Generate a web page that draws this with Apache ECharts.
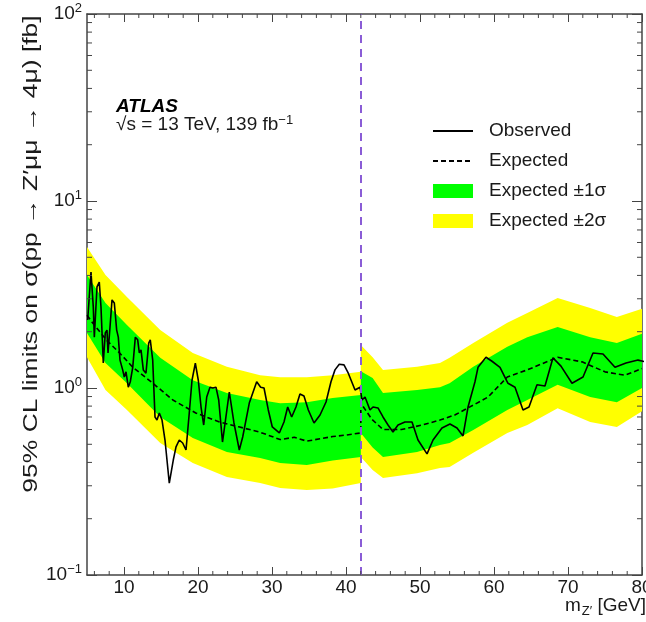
<!DOCTYPE html>
<html>
<head>
<meta charset="utf-8">
<script src="https://cdn.jsdelivr.net/npm/echarts@6.0.0/dist/echarts.min.js"></script>
<style>
  html, body { margin: 0; padding: 0; background: #fff; }
  #chart { width: 646px; height: 622px; }
</style>
</head>
<body>
<div id="chart"></div>
<script>
// observed limit [mZ' (GeV), sigma (fb)]
const observed = [
  [5.09, 2.31], [5.54, 4.17], [5.85, 2.71], [5.99, 1.87], [6.35, 3.47], [6.66, 3.69], [6.89, 2.71],
  [7.2, 1.36], [7.47, 1.97], [7.7, 2.04], [7.84, 1.54], [8.11, 2.12], [8.38, 2.96], [8.69, 2.85],
  [9.01, 2.04], [9.23, 1.87], [9.46, 1.41], [9.82, 1.25], [10.04, 1.145], [10.27, 1.22], [10.58, 1.01],
  [10.85, 1.08], [11.18, 1.29], [11.53, 1.87], [11.85, 1.81], [12.07, 1.54], [12.3, 1.6], [12.61, 1.25],
  [12.97, 1.2], [13.34, 1.74], [13.55, 1.81], [13.88, 1.41], [14.19, 0.7], [14.46, 0.674], [14.77, 0.735],
  [15.14, 0.674], [15.54, 0.527], [16.12, 0.31], [16.66, 0.412], [17.03, 0.484], [17.47, 0.527],
  [17.93, 0.508], [18.38, 0.466], [18.82, 0.735], [19.19, 1.1], [19.64, 1.36], [20.04, 1.1], [20.41, 0.791],
  [20.77, 0.634], [21.18, 0.895], [21.62, 1.01], [21.99, 1.0], [22.43, 1.01], [22.8, 0.863], [23.31, 0.514],
  [24.23, 0.952], [24.86, 0.65], [25.58, 0.466], [26.04, 0.547], [26.93, 0.831], [27.93, 1.08], [28.47, 1.01],
  [28.92, 1.0], [29.5, 0.763], [30.04, 0.619], [30.99, 0.575], [31.62, 0.658], [32.12, 0.791], [32.66, 0.7],
  [33.24, 0.791], [33.78, 0.929], [34.32, 0.906], [34.91, 0.763], [35.68, 0.65], [36.49, 0.717], [37.3, 0.842],
  [37.97, 1.08], [38.51, 1.25], [39.09, 1.34], [39.73, 1.33], [40.31, 1.2], [41.22, 0.976], [41.89, 1.01],
  [42.16, 0.863], [42.57, 0.895], [43.24, 0.763], [43.65, 0.791], [44.32, 0.782], [45.0, 0.7], [45.68, 0.634],
  [46.35, 0.582], [47.03, 0.634], [47.97, 0.658], [48.92, 0.658], [49.73, 0.527], [50.95, 0.444], [51.76, 0.527],
  [52.97, 0.611], [54.05, 0.642], [55.0, 0.611], [55.81, 0.554], [56.49, 0.791], [57.43, 1.08], [57.84, 1.29],
  [58.92, 1.46], [59.73, 1.39], [60.81, 1.29], [61.89, 1.06], [62.84, 1.01], [63.92, 0.763], [64.73, 0.791],
  [65.81, 1.04], [66.89, 1.025], [67.97, 1.45], [69.05, 1.31], [70.54, 1.06], [72.03, 1.145], [73.38, 1.54],
  [74.73, 1.52], [76.35, 1.29], [77.84, 1.36], [79.46, 1.41], [80.5, 1.38]
];

// expected limit
const expected = [
  [5, 2.45], [5.8, 2.22], [7.6, 1.81], [9.4, 1.54], [11.2, 1.29], [13.9, 1.06], [16.6, 0.863], [19.7, 0.735],
  [22.9, 0.658], [25.5, 0.62], [28.4, 0.58], [31.1, 0.53], [33, 0.545], [34.7, 0.52], [36.5, 0.535], [38.2, 0.55],
  [40, 0.56], [42, 0.575], [42, 0.83], [43.5, 0.68], [45, 0.6], [47.5, 0.6], [50.3, 0.634], [52.7, 0.674],
  [54.7, 0.717], [57.2, 0.81], [59.2, 0.895], [61.8, 1.145], [64.5, 1.25], [68.6, 1.46], [71.9, 1.38],
  [75, 1.22], [77.7, 1.17], [80, 1.27]
];

// expected bands
const bandMass = [5, 7.5, 10.4, 14.9, 19.3, 23.9, 28.4, 31.1, 34.7, 38.2, 42, 42, 43.6, 45, 49.6, 52.7, 54, 57.2, 61.8, 64.5, 68.6, 73, 76.6, 80];
const sig2Up = [5.67, 4.02, 3.07, 2.04, 1.54, 1.30, 1.17, 1.14, 1.14, 1.17, 1.22, 1.70, 1.46, 1.25, 1.30, 1.36, 1.45, 1.74, 2.23, 2.52, 3.03, 2.68, 2.40, 2.65];
const sig1Up = [4.02, 2.85, 2.17, 1.45, 1.10, 0.94, 0.863, 0.83, 0.84, 0.884, 0.917, 1.23, 1.13, 0.94, 0.975, 1.01, 1.06, 1.30, 1.66, 1.87, 2.12, 1.87, 1.74, 1.95];
const sig1Dn = [1.97, 1.36, 1.06, 0.70, 0.54, 0.455, 0.422, 0.397, 0.387, 0.41, 0.428, 0.575, 0.48, 0.428, 0.455, 0.496, 0.508, 0.596, 0.763, 0.863, 1.04, 0.895, 0.84, 1.0];
const sig2Dn = [1.46, 0.976, 0.763, 0.508, 0.397, 0.334, 0.31, 0.292, 0.285, 0.29, 0.31, 0.428, 0.364, 0.33, 0.35, 0.373, 0.378, 0.45, 0.575, 0.634, 0.78, 0.658, 0.619, 0.75];

const xTicks = [10, 20, 30, 40, 50, 60, 70, 80];
const yTicks = [0.1, 1, 10, 100];
const boundary = 42;

const xMinor = [];
for (let m = 6; m < 80; m += 2) if (m % 10 !== 0) xMinor.push(m);
const yMinor = [];
for (let k = -1; k <= 1; k++) for (let d = 2; d <= 9; d++) yMinor.push(d * Math.pow(10, k));

const FONT = '"Liberation Sans", Arial, Helvetica, sans-serif';
const TXT = '#1a1a1a';
const AX = '#444';

const chart = echarts.init(document.getElementById('chart'));

function band(name, up, dn, color, z) {
  return {
    name: name,
    type: 'custom',
    coordinateSystem: 'cartesian2d',
    silent: true,
    z: z,
    itemStyle: { color: color },
    data: [[bandMass[0], up[0]]],
    renderItem: function (params, api) {
      const pts = [];
      for (let i = 0; i < bandMass.length; i++) pts.push(api.coord([bandMass[i], up[i]]));
      for (let i = bandMass.length - 1; i >= 0; i--) pts.push(api.coord([bandMass[i], dn[i]]));
      return { type: 'polygon', shape: { points: pts }, style: { fill: color } };
    }
  };
}

function supLabel(v) {
  const e = Math.round(Math.log10(v));
  return '{b|10}{s|' + (e < 0 ? '\u2212' + (-e) : e) + '}';
}

const axisLine = { show: true, onZero: false, lineStyle: { color: AX, width: 1.5 } };

chart.setOption({
  animation: false,
  textStyle: { fontFamily: FONT },
  grid: { left: 87, right: 4, top: 14, bottom: 47, outerBoundsMode: 'none', containLabel: false },
  legend: {
    orient: 'vertical',
    left: 432,
    top: 121,
    padding: 0,
    itemWidth: 40,
    itemHeight: 14,
    itemGap: 10,
    textStyle: { fontSize: 19, color: TXT, lineHeight: 20, padding: [0, 0, 0, 11] },
    data: [
      { name: 'Observed', itemStyle: { opacity: 0 } },
      { name: 'Expected', itemStyle: { opacity: 0 } },
      { name: 'Expected \u00b11\u03c3', icon: 'rect' },
      { name: 'Expected \u00b12\u03c3', icon: 'rect' }
    ]
  },
  xAxis: [{
    type: 'value', min: 5, max: 80, position: 'bottom',
    axisLine: axisLine,
    axisTick: { show: true, inside: true, length: 8, customValues: xTicks, lineStyle: { color: AX, width: 1 } },
    axisLabel: { customValues: xTicks, fontSize: 19, color: TXT, margin: 3 },
    splitLine: { show: false }
  }, {
    type: 'value', min: 5, max: 80, position: 'top',
    axisLine: axisLine,
    axisTick: { show: true, inside: true, length: 8, customValues: xTicks, lineStyle: { color: AX, width: 1 } },
    axisLabel: { show: false },
    splitLine: { show: false }
  }],
  yAxis: [{
    type: 'log', logBase: 10, min: 0.1, max: 100, position: 'left',
    axisLine: axisLine,
    axisTick: { show: true, inside: true, length: 10, customValues: yTicks, lineStyle: { color: AX, width: 1 } },
    axisLabel: {
      customValues: yTicks, margin: 5, color: TXT,
      formatter: supLabel,
      rich: {
        b: { fontSize: 19, color: TXT, fontFamily: FONT },
        s: { fontSize: 13, color: TXT, fontFamily: FONT, verticalAlign: 'top', padding: [0, 0, 12, 0] }
      }
    },
    splitLine: { show: false }
  }, {
    type: 'log', logBase: 10, min: 0.1, max: 100, position: 'right',
    axisLine: axisLine,
    axisTick: { show: true, inside: true, length: 10, customValues: yTicks, lineStyle: { color: AX, width: 1 } },
    axisLabel: { show: false },
    splitLine: { show: false }
  }],
  series: [
    band('Expected \u00b12\u03c3', sig2Up, sig2Dn, '#ffff00', 1),
    band('Expected \u00b11\u03c3', sig1Up, sig1Dn, '#00ff00', 2),
    {
      name: 'Expected', type: 'line', data: expected, symbol: 'none', z: 3,
      lineStyle: { color: '#000', width: 1.6, type: [5, 3] }, itemStyle: { color: '#000' }
    },
    {
      name: 'Observed', type: 'line', data: observed, symbol: 'none', z: 4,
      lineStyle: { color: '#000', width: 1.6 }, itemStyle: { color: '#000' },
      markLine: {
        silent: true, symbol: 'none', label: { show: false },
        lineStyle: { color: '#8a5cd6', width: 2, type: [8, 6] },
        data: [{ xAxis: boundary }]
      }
    },
    {
      // minor ticks on the frame
      type: 'custom', coordinateSystem: 'cartesian2d', silent: true, z: 6, clip: false,
      data: [[5, 1]],
      renderItem: function (params, api) {
        const cs = params.coordSys;
        const kids = [];
        const st = { stroke: AX, lineWidth: 1 };
        xMinor.forEach(function (m) {
          const px = api.coord([m, 1])[0];
          kids.push({ type: 'line', shape: { x1: px, y1: cs.y + cs.height, x2: px, y2: cs.y + cs.height - 4 }, style: st });
          kids.push({ type: 'line', shape: { x1: px, y1: cs.y, x2: px, y2: cs.y + 4 }, style: st });
        });
        yMinor.forEach(function (v) {
          const py = api.coord([5, v])[1];
          kids.push({ type: 'line', shape: { x1: cs.x, y1: py, x2: cs.x + 5, y2: py }, style: st });
          kids.push({ type: 'line', shape: { x1: cs.x + cs.width, y1: py, x2: cs.x + cs.width - 5, y2: py }, style: st });
        });
        return { type: 'group', children: kids };
      }
    }
  ],
  graphic: [
    {
      type: 'text', x: 31, y: 254, rotation: Math.PI / 2, scaleX: 1.26,
      style: {
        text: '95% CL limits on \u03c3(pp \u2192 Z\u2032\u03bc\u03bc \u2192 4\u03bc) [fb]',
        font: '21px ' + FONT, fill: TXT, align: 'center', verticalAlign: 'middle'
      }
    },
    {
      type: 'text', x: 646, y: 606,
      style: {
        text: '{a|m}{z|Z\u2032}{a| [GeV]}', align: 'right', verticalAlign: 'middle',
        rich: {
          a: { fontSize: 19, fontFamily: FONT, fill: TXT, color: TXT },
          z: { fontSize: 13, fontFamily: FONT, fill: TXT, color: TXT, verticalAlign: 'bottom', padding: [10, 0, 0, 1] }
        }
      }
    },
    {
      type: 'text', x: 116, y: 107,
      style: { text: 'ATLAS', font: 'italic bold 19px ' + FONT, fill: '#000', verticalAlign: 'middle' }
    },
    {
      type: 'text', x: 116, y: 125,
      style: {
        text: '{a|\u221as = 13 TeV, 139 fb}{s|\u22121}', verticalAlign: 'middle',
        rich: {
          a: { fontSize: 19, fontFamily: FONT, fill: TXT, color: TXT },
          s: { fontSize: 13, fontFamily: FONT, fill: TXT, color: TXT, verticalAlign: 'top', padding: [0, 0, 10, 0] }
        }
      }
    }
  ]
});
</script>
</body>
</html>
